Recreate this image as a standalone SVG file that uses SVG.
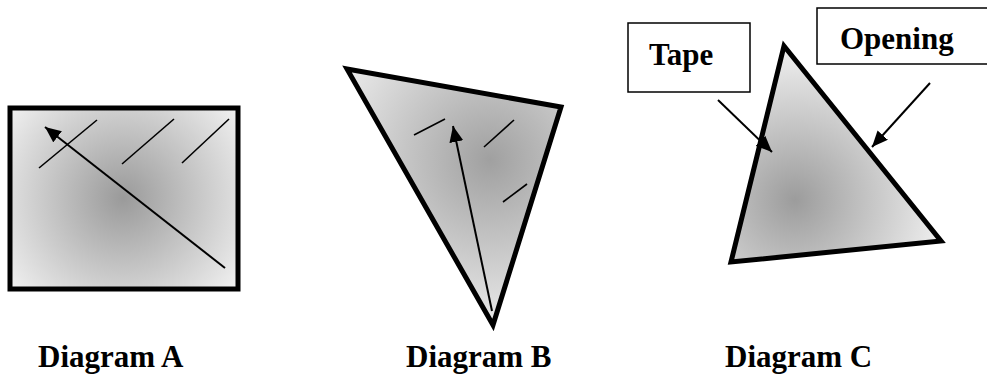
<svg xmlns="http://www.w3.org/2000/svg" width="987" height="382" viewBox="0 0 987 382">
<style>
.shape{stroke:#000;stroke-width:5;stroke-linejoin:miter}
.thin{stroke:#000;stroke-width:2;fill:none}
.hatch{stroke:#000;stroke-width:1.6;fill:none}
.box{fill:#fff;stroke:#000;stroke-width:1.5}
.lbl{font-family:"Liberation Serif","Times New Roman",serif;font-weight:bold;font-size:31px;fill:#000}
</style>
<defs>
<radialGradient id="gA" gradientUnits="userSpaceOnUse" cx="123" cy="198" r="150">
<stop offset="0" stop-color="#9a9a9a"/><stop offset="1" stop-color="#f4f4f4"/>
</radialGradient>
<radialGradient id="gB" gradientUnits="userSpaceOnUse" cx="490" cy="160" r="190">
<stop offset="0" stop-color="#a0a0a0"/><stop offset="1" stop-color="#f4f4f4"/>
</radialGradient>
<radialGradient id="gC" gradientUnits="userSpaceOnUse" cx="795" cy="200" r="160">
<stop offset="0" stop-color="#9c9c9c"/><stop offset="1" stop-color="#f4f4f4"/>
</radialGradient>
<marker id="ah" markerUnits="userSpaceOnUse" markerWidth="18" markerHeight="14" refX="16" refY="7" orient="auto">
<path d="M0,0 L16,7 L0,14 Z" fill="#000"/>
</marker>
</defs>
<g id="diagramA">
<rect class="shape" x="10" y="108" width="228" height="181" fill="url(#gA)"/>
<line class="hatch" x1="39" y1="168" x2="97" y2="120"/>
<line class="hatch" x1="122" y1="164" x2="174" y2="119"/>
<line class="hatch" x1="182" y1="163" x2="229" y2="119"/>
<text class="lbl" x="38" y="367">Diagram A</text>
</g>
<g id="diagramB">
<polygon class="shape" points="347,69 561,107 493,325" fill="url(#gB)"/>
<line class="hatch" x1="414" y1="135" x2="445" y2="119"/>
<line class="hatch" x1="484" y1="147" x2="514" y2="120"/>
<line class="hatch" x1="503" y1="202" x2="527" y2="184"/>
<text class="lbl" x="406" y="367">Diagram B</text>
</g>
<g id="diagramC">
<polygon class="shape" points="784,46 941,241 731,262" fill="url(#gC)"/>
<text class="lbl" x="725" y="367">Diagram C</text>
</g>
<g id="tape">
<rect class="box" x="628" y="23" width="122" height="69"/>
<text class="lbl" x="649" y="65">Tape</text>
</g>
<g id="opening">
<rect class="box" x="817" y="8" width="175" height="56"/>
<text class="lbl" x="840" y="49">Opening</text>
</g>
<g id="connectors">
<line class="thin" x1="225" y1="268" x2="45" y2="127" marker-end="url(#ah)"/>
<line class="thin" x1="492" y1="311" x2="453" y2="126" marker-end="url(#ah)"/>
<line class="thin" x1="718" y1="100" x2="772" y2="152" marker-end="url(#ah)"/>
<line class="thin" x1="930" y1="83" x2="872" y2="147" marker-end="url(#ah)"/>
</g>
</svg>
